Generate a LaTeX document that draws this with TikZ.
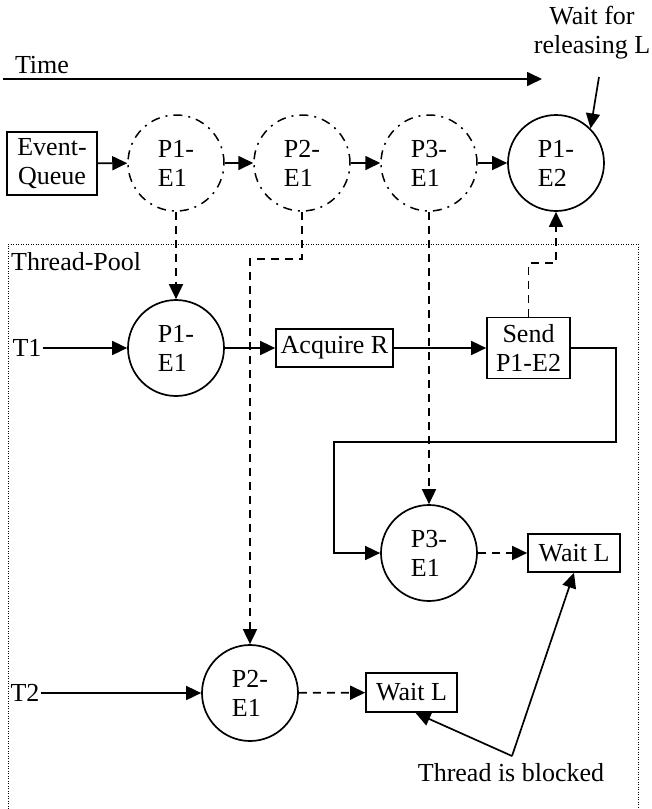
\documentclass[tikz,border=0pt]{standalone}
\usepackage{fontspec}
\setmainfont{Liberation Serif}
\usetikzlibrary{arrows.meta}
\begin{document}
\begin{tikzpicture}[x=1pt,y=-1pt,
  every node/.style={font=\fontsize{26}{29}\selectfont},
  evt/.style={circle,draw,line width=1.7pt,minimum size=96pt,inner sep=0pt,align=left},
  queued/.style={evt,line width=1.5pt,dash pattern=on 9pt off 6pt on 2pt off 6pt},
  box/.style={draw,line width=1.7pt,inner sep=0pt,align=center},
  lbl/.style={inner sep=1pt,align=center},
  flow/.style={line width=1.7pt,-{Triangle[length=15pt,width=14pt]}},
  msg/.style={flow,dash pattern=on 8pt off 6pt},
  pool/.style={line width=1pt,dash pattern=on 1pt off 1.5pt}]
\useasboundingbox (0,0) rectangle (651,809);

% time axis
\node[lbl] (time) at (42,65) {Time};
\coordinate (tstart) at (3,79);
\coordinate (tend) at (542,79);
\draw[flow] (tstart) -- (tend);

% event queue
\node[box,minimum width=90pt,minimum height=63pt] (queue) at (52,163.5) {Event-\\Queue};
\node[queued] (q1) at (176,163) {P1-\\E1};
\node[queued] (q2) at (302,163) {P2-\\E1};
\node[queued] (q3) at (429,163) {P3-\\E1};
\node[evt] (q4) at (556,163) {P1-\\E2};
\draw[flow] (queue) -- (q1);
\draw[flow] (q1) -- (q2);
\draw[flow] (q2) -- (q3);
\draw[flow] (q3) -- (q4);

\node[lbl] (waitrel) at (592,33) {Wait for\\releasing L};
\coordinate (wr) at (599,77);
\draw[flow] (wr) -- (q4.north east);

% thread pool
\draw[pool] (8,809) -- (8,244) -- (638,244) -- (638,809);
\node[lbl,anchor=west] (poolname) at (10,262) {Thread-Pool};

% thread T1
\node[lbl] (T1) at (27,348) {T1};
\node[evt] (a1) at (176,348) {P1-\\E1};
\node[box,minimum width=117pt,minimum height=38pt] (acq) at (334.5,348) {Acquire R};
\node[box,minimum width=83pt,minimum height=61pt] (send) at (528.5,348) {Send\\P1-E2};
\node[evt] (a3) at (429,553) {P3-\\E1};
\node[box,minimum width=92pt,minimum height=38pt] (wait1) at (574,553) {Wait L};
\draw[flow] (T1) -- (a1);
\draw[flow] (a1) -- (acq);
\draw[flow] (acq) -- (send);
\draw[flow] (send.east) -| (616,442) -| (334,553) -- (a3.west);
\draw[msg] (a3) -- (wait1);

% thread T2
\node[lbl] (T2) at (25,693) {T2};
\node[evt] (a2) at (250,693) {P2-\\E1};
\node[box,minimum width=91pt,minimum height=39pt] (wait2) at (411.5,692.5) {Wait L};
\draw[flow] (T2) -- (a2);
\draw[msg] (a2) -- (wait2);

% dispatching events to threads
\draw[msg] (q1) -- (a1);
\draw[msg] (q2.south) -- ++(0,47) -| (a2.north);
\draw[msg] (q3) -- (a3);
\draw[msg] (send.north) -- ++(0,-53.5) -| (q4.south);

% blocked threads
\node[lbl] (blocked) at (511,773) {Thread is blocked};
\coordinate (bj) at (512,756);
\draw[flow] (bj) -- ([xshift=4pt]wait2.south);
\draw[flow] (bj) -- (wait1.south);
\end{tikzpicture}
\end{document}
